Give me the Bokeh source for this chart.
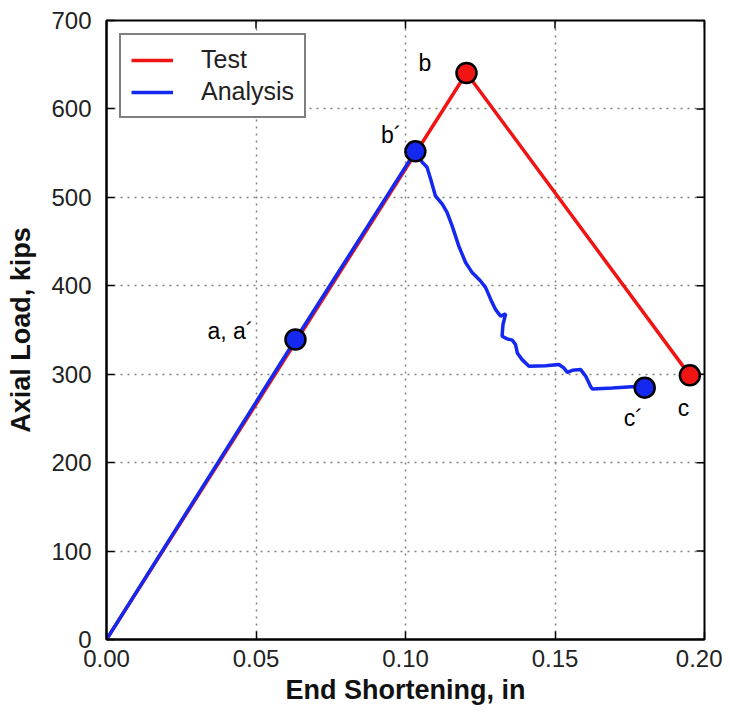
import math
from bokeh.plotting import figure
from bokeh.models import Range1d, FixedTicker, NumeralTickFormatter, Legend, LegendItem
from bokeh.core.properties import value
from bokeh.embed import file_html
from bokeh.resources import INLINE

# ---- data ----
x_ticks = [0.0, 0.05, 0.10, 0.15, 0.20]
y_ticks = [0, 100, 200, 300, 400, 500, 600, 700]

test_x = [0.0, 0.1204, 0.1951]
test_y = [0.0, 640.7, 298.7]

analysis_x = [0.0, 0.0632, 0.1033, 0.1056, 0.1072, 0.1084, 0.1100, 0.1123, 0.1139,
              0.1156, 0.1178, 0.1201, 0.1223, 0.1251, 0.1268, 0.1285, 0.1301, 0.1318,
              0.1335, 0.1326, 0.1323, 0.1340, 0.1357, 0.1368, 0.1374, 0.1390, 0.1413,
              0.1469, 0.1513, 0.1530, 0.1541, 0.1558, 0.1586, 0.1603, 0.1619, 0.1625,
              0.1692, 0.1770, 0.1800]
analysis_y = [0.0, 339.2, 552.0, 539.7, 534.0, 520.8, 501.8, 492.4, 483.0,
              467.8, 445.1, 426.3, 414.9, 405.4, 397.9, 384.6, 373.3, 365.7,
              368.4, 356.2, 343.0, 340.0, 338.5, 333.6, 324.1, 316.5, 308.9,
              309.7, 310.9, 307.1, 302.1, 304.4, 305.2, 297.6, 286.2, 283.3,
              284.4, 286.2, 284.8]

test_pts_x = [0.1204, 0.1951]
test_pts_y = [640.7, 298.7]
test_pts_labels = ["b", "c"]

analysis_pts_x = [0.0632, 0.1033, 0.1800]
analysis_pts_y = [339.2, 552.0, 284.8]
analysis_pts_labels = ["a, a\u00b4", "b\u00b4", "c\u00b4"]

# ---- styles ----
RED = "#f01414"
BLUE = "#1428f0"
FONT = "Liberation Sans"

p = figure(width=722, height=712, output_backend="svg", toolbar_location=None,
           x_range=Range1d(x_ticks[0], x_ticks[-1]), y_range=Range1d(y_ticks[0], y_ticks[-1]),
           min_border_left=106, min_border_right=18, min_border_top=20, min_border_bottom=73,
           background_fill_color="white", border_fill_color="white")

p.outline_line_color = "black"
p.outline_line_width = 2
p.outline_line_alpha = 1

# axes
p.xaxis.ticker = FixedTicker(ticks=x_ticks)
p.yaxis.ticker = FixedTicker(ticks=y_ticks)
p.xaxis.formatter = NumeralTickFormatter(format="0.00")
p.xaxis.axis_label = "End Shortening, in"
p.yaxis.axis_label = "Axial Load, kips"
for ax in (p.xaxis[0], p.yaxis[0]):
    ax.axis_label_text_font = FONT
    ax.axis_label_text_font_style = "bold"
    ax.axis_label_text_font_size = "27px"
    ax.axis_label_text_color = "#111111"
    ax.major_label_text_font = FONT
    ax.major_label_text_font_size = "24px"
    ax.major_label_text_color = "#222222"
    ax.major_tick_in = 8
    ax.major_tick_out = 0
    ax.minor_tick_in = 0
    ax.minor_tick_out = 0
    ax.major_tick_line_color = "black"
    ax.major_tick_line_width = 1.5
    ax.axis_line_color = "black"
    ax.axis_line_width = 2
p.xaxis[0].major_label_standoff = 10
p.xaxis[0].axis_label_standoff = 5
p.yaxis[0].major_label_standoff = 15
p.yaxis[0].axis_label_standoff = 12

# grids
p.xgrid.ticker = FixedTicker(ticks=x_ticks)
p.ygrid.ticker = FixedTicker(ticks=y_ticks)
for g in (p.xgrid[0], p.ygrid[0]):
    g.grid_line_color = "#808080"
    g.grid_line_dash = "2 5"
    g.grid_line_width = 1.5
    g.grid_line_alpha = 1

# inward tick marks on the top and right frame edges (clipped to the frame)
p.scatter(x_ticks, [y_ticks[-1]] * len(x_ticks), marker="dash", angle=math.pi / 2,
          size=16, line_color="black", line_width=1.5)
p.scatter([x_ticks[-1]] * len(y_ticks), y_ticks, marker="dash",
          size=16, line_color="black", line_width=1.5)

# lines
r_test = p.line(test_x, test_y, line_color=RED, line_width=3.5)
r_an = p.line(analysis_x, analysis_y, line_color=BLUE, line_width=3.5)

# markers
p.scatter(test_pts_x, test_pts_y, size=20, fill_color=RED, line_color="black", line_width=2.5)
p.scatter(analysis_pts_x, analysis_pts_y, size=20, fill_color=BLUE, line_color="black", line_width=2.5)

# point labels (offsets in screen pixels)
label_specs = [
    (analysis_pts_x[0], analysis_pts_y[0], analysis_pts_labels[0], "right", -42, -9),
    (analysis_pts_x[1], analysis_pts_y[1], analysis_pts_labels[1], "right", -14, -16),
    (analysis_pts_x[2], analysis_pts_y[2], analysis_pts_labels[2], "left", -21, 30),
    (test_pts_x[0], test_pts_y[0], test_pts_labels[0], "left", -48, -10),
    (test_pts_x[1], test_pts_y[1], test_pts_labels[1], "left", -12, 33),
]
for lx, ly, lt, al, xo, yo in label_specs:
    p.text(x=[lx], y=[ly], text=[lt], text_align=al, text_baseline="alphabetic",
           x_offset=xo, y_offset=yo, text_font=value(FONT), text_font_size="23px",
           text_color="black")

legend = Legend(items=[LegendItem(label="Test", renderers=[r_test]),
                       LegendItem(label="Analysis", renderers=[r_an])],
                location="top_left", margin=13, padding=10, spacing=3,
                glyph_width=42, glyph_height=20, label_height=28, label_standoff=28,
                label_text_font=FONT, label_text_font_size="25px", label_text_color="#222222",
                border_line_color="black", border_line_width=2, background_fill_alpha=1)
p.add_layout(legend)

open("out.html", "w").write(file_html(p, INLINE))
